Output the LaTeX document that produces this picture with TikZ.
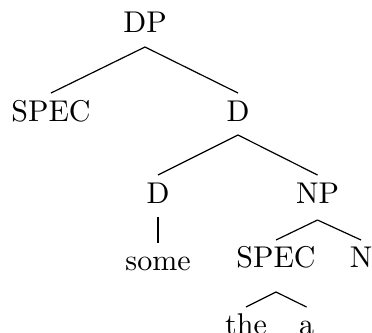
\documentclass[tikz,border=0pt]{standalone}
\begin{document}
\begin{tikzpicture}[x=0.3333pt,y=-0.3333pt,
  lbl/.style={inner sep=0pt,anchor=base},
  br/.style={line width=0.4pt}]
\useasboundingbox (0,0) rectangle (372,332);
\node[lbl] (DP) at (145,33) {DP};
\node[lbl] (S1) at (51,121) {SPEC};
\node[lbl] (D1) at (238,121) {D};
\node[lbl] (D2) at (158,203) {D};
\node[lbl] (NP) at (317.5,203) {NP};
\node[lbl] (some) at (158,270) {some};
\node[lbl] (S2) at (276,267) {SPEC};
\node[lbl] (N) at (361,267) {N};
\node[lbl] (the) at (246,334) {the};
\node[lbl] (a) at (306.5,334) {a};
\draw[br] ([yshift=-4.67pt]DP.base) -- ([yshift=9.33pt]S1.base);
\draw[br] ([yshift=-4.67pt]DP.base) -- ([yshift=9.33pt]D1.base);
\draw[br] ([yshift=-4.67pt]D1.base) -- ([yshift=9.33pt]D2.base);
\draw[br] ([yshift=-4.67pt]D1.base) -- ([yshift=9.33pt]NP.base);
\draw[br] ([yshift=-4.67pt]D2.base) -- ([yshift=9pt]some.base);
\draw[br] ([yshift=-5.67pt]NP.base) -- ([yshift=9pt]S2.base);
\draw[br] ([yshift=-5.67pt]NP.base) -- ([yshift=9pt]N.base);
\draw[br] ([yshift=-8.33pt]S2.base) -- ([yshift=9pt]the.base);
\draw[br] ([yshift=-8.33pt]S2.base) -- ([yshift=9pt]a.base);
\end{tikzpicture}
\end{document}
